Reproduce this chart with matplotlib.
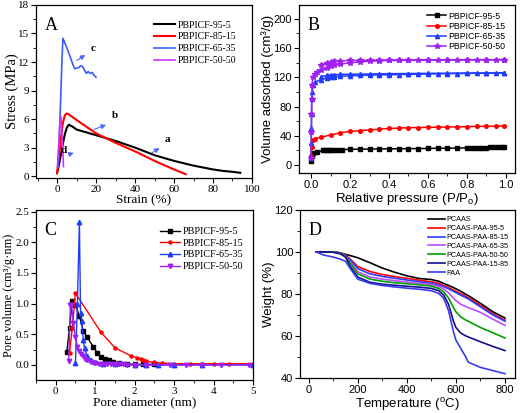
import matplotlib
matplotlib.use("Agg")
import matplotlib.pyplot as plt
from matplotlib.ticker import AutoMinorLocator

SERIF = "Liberation Serif"
SANS = "Liberation Sans"

# ---- panel A: stress-strain ----
a_x = [0, 1, 2, 3, 4, 5, 6, 8, 10, 15, 20, 25, 30, 35, 40, 45, 50, 55, 60, 65, 70, 75, 80, 85, 90, 94]
a_y = [0.3, 1.2, 2.3, 3.4, 4.4, 5.1, 5.4, 5.2, 4.9, 4.6, 4.3, 4.0, 3.7, 3.35, 3.0, 2.6, 2.2, 1.9, 1.6, 1.35, 1.1, 0.9, 0.7, 0.55, 0.45, 0.35]
b_x = [0, 1, 2, 3, 4, 5, 6, 8, 10, 15, 20, 25, 30, 35, 40, 45, 50, 55, 60, 63, 66]
b_y = [0.3, 2.0, 4.0, 5.6, 6.4, 6.6, 6.5, 6.2, 5.9, 5.2, 4.5, 4.0, 3.5, 3.05, 2.6, 2.1, 1.6, 1.15, 0.7, 0.45, 0.2]
c_x = [0.5, 1.5, 2.5, 3, 5, 7, 8, 9, 10, 11, 12, 13, 14, 15, 16, 17, 18, 19, 20]
c_y = [1.0, 6.0, 12.0, 14.5, 13.5, 12.4, 11.8, 11.3, 11.35, 11.4, 11.6, 11.55, 11.2, 10.8, 11.0, 10.8, 10.9, 10.6, 10.4]
d_x = [0.2, 0.8, 1.4, 1.8, 2.1, 2.5, 3.0, 3.3]
d_y = [1.0, 3.0, 5.2, 6.3, 5.8, 4.5, 2.5, 1.0]
a_labels = ["PBPICF-95-5", "PBPICF-85-15", "PBPICF-65-35", "PBPICF-50-50"]

# ---- panel B: N2 isotherms (adsorption + desorption) ----
b95_x = [0.001, 0.005, 0.01, 0.03, 0.06, 0.07, 0.08, 0.09, 0.1, 0.12, 0.14, 0.16, 0.2, 0.25, 0.3, 0.35, 0.4,
         0.45, 0.5, 0.55, 0.6, 0.65, 0.7, 0.75, 0.8, 0.82, 0.84, 0.86, 0.88, 0.9, 0.92, 0.94, 0.96, 0.98, 0.99]
b95_y = [5, 12, 16, 17.5, 20, 20.3, 20.5, 20.6, 20.8, 21, 21.1, 21.2, 21.4, 21.6, 21.8, 22, 22.1,
         22.2, 22.3, 22.5, 22.7, 22.9, 23, 23.2, 23.4, 23.5, 23.6, 23.7, 23.8, 23.9, 24, 24.1, 24.2, 24.3, 24.4]
b85_x = [0.001, 0.003, 0.01, 0.02, 0.05, 0.1, 0.15, 0.2, 0.25, 0.3, 0.35, 0.4, 0.45, 0.5, 0.55, 0.6, 0.65,
         0.7, 0.75, 0.8, 0.85, 0.9, 0.95, 0.99]
b85_y = [12, 25, 34, 36, 38, 41, 44, 46, 47, 48, 49, 50, 50.5, 51, 51.3, 51.5, 51.8,
         52, 52.2, 52.5, 52.8, 53, 53.2, 53.5]
b65_x = [0.0, 0.001, 0.002, 0.003, 0.004, 0.005, 0.01, 0.02, 0.05, 0.08, 0.1, 0.12, 0.15, 0.2, 0.25, 0.3,
         0.35, 0.4, 0.45, 0.5, 0.55, 0.6, 0.65, 0.7, 0.75, 0.8, 0.85, 0.9, 0.95, 0.99]
b65_y = [10, 30, 50, 70, 90, 100, 110, 113, 117, 119, 120, 121, 121.5, 122, 122.5, 123,
         123.2, 123.5, 123.7, 124, 124.2, 124.5, 124.7, 125, 125.1, 125.3, 125.5, 125.6, 125.8, 126]
b65d_x = [0.99, 0.9, 0.8, 0.7, 0.6, 0.5, 0.4, 0.35, 0.3, 0.25, 0.2, 0.15, 0.12, 0.1, 0.08, 0.05]
b65d_y = [126, 126, 125.8, 125.6, 125.4, 125.2, 125, 124.8, 124.6, 124.4, 124.2, 124, 123.6, 123.2, 122.5, 121]
b50_x = [0.0, 0.001, 0.002, 0.003, 0.005, 0.01, 0.02, 0.03, 0.05, 0.08, 0.1, 0.12, 0.15, 0.2, 0.25, 0.3,
         0.35, 0.4, 0.45, 0.5, 0.55, 0.6, 0.65, 0.7, 0.75, 0.8, 0.85, 0.9, 0.95, 0.99]
b50_y = [10, 45, 70, 90, 110, 120, 124, 127, 130, 133, 135, 136.5, 138, 140, 141, 142,
         142.5, 143, 143, 143.2, 143.3, 143.4, 143.5, 143.6, 143.7, 143.8, 143.9, 144, 144, 144.2]
b50d_x = [0.99, 0.9, 0.8, 0.7, 0.6, 0.5, 0.45, 0.4, 0.35, 0.3, 0.25, 0.2, 0.15, 0.12, 0.1, 0.08, 0.05]
b50d_y = [144.2, 144.2, 144.1, 144, 143.9, 143.8, 143.7, 143.6, 143.5, 143.4, 143.2, 143, 142.5, 142, 141, 140, 137]

# ---- panel C: pore size distribution ----
c95_x = [0.28, 0.35, 0.42, 0.5, 0.6, 0.7, 0.8, 0.95, 1.05, 1.15, 1.25, 1.35, 1.45, 1.6, 1.8, 2.0, 2.2, 2.5]
c95_y = [0.21, 0.6, 1.05, 0.98, 0.8, 0.55, 0.45, 0.3, 0.2, 0.13, 0.1, 0.08, 0.05, 0.03, 0.015, 0.01, 0.01, 0.01]
c85_x = [0.35, 0.42, 0.5, 1.15, 1.5, 1.9, 2.05, 2.15, 2.2, 2.3, 2.5, 2.7, 3.0, 3.4, 3.7, 4.0, 4.4, 5.0]
c85_y = [0.2, 0.6, 1.17, 0.53, 0.28, 0.15, 0.12, 0.1, 0.08, 0.06, 0.04, 0.03, 0.02, 0.02, 0.02, 0.02, 0.02, 0.02]
c65_x = [0.5, 0.55, 0.6, 0.63, 0.66, 0.7, 0.73, 0.8, 0.9, 1.0, 1.2, 1.5, 2.0, 2.3, 2.6, 3.0, 3.7, 5.0]
c65_y = [0.03, 1.0, 2.33, 0.85, 0.72, 0.4, 0.27, 0.15, 0.08, 0.05, 0.02, 0.01, 0.0, 0.0, 0.0, 0.0, 0.0, 0.0]
c50_x = [0.33, 0.37, 0.4, 0.45, 0.5, 0.55, 0.6, 0.65, 0.7, 0.75, 0.8, 0.9, 1.0, 1.1, 1.2, 1.3, 1.4, 1.5,
         1.6, 1.7, 1.8, 2.0, 2.3, 2.9, 3.3, 3.7, 4.2, 4.9]
c50_y = [0.07, 0.97, 0.98, 0.68, 0.45, 0.3, 0.22, 0.18, 0.15, 0.1, 0.08, 0.05, 0.03, 0.02, 0.02, 0.015, 0.01, 0.01,
         0.01, 0.01, 0.0, 0.0, 0.0, 0.0, 0.0, 0.0, 0.0, 0.0]

# ---- panel D: TGA ----
t = [30, 60, 100, 130, 150, 170, 200, 250, 300, 350, 400, 450, 500, 530, 550, 570, 590, 600, 620, 640, 650, 700, 750, 800]
w_pcaas = [100, 100, 100, 99.5, 98.8, 98.2, 97.2, 94.8, 92.3, 90.3, 88.6, 87.3, 86.8, 86, 85, 84, 83, 82.4, 81.2, 79.8, 79.2, 75.5, 71.5, 68.5]
w_95 = [100, 100, 100, 99.5, 98.5, 96.5, 93, 90.6, 89.2, 88.2, 87.4, 86.5, 85.7, 85, 84, 83, 81.8, 81.2, 80, 78.8, 78.2, 74.5, 70.5, 67.5]
w_85 = [100, 100, 100, 99.3, 98.2, 96, 92, 89.5, 88.3, 87.4, 86.6, 85.8, 85, 84.3, 83.4, 82.4, 81.2, 80.6, 79.4, 78.2, 77.6, 73.8, 70, 67]
w_65 = [100, 100, 100, 99.3, 98, 95, 90.5, 88, 87, 86.3, 85.6, 85, 84.4, 83.6, 82.3, 80.5, 78, 76.8, 75, 74, 73.5, 71.2, 68, 65]
w_50 = [100, 100, 100, 99.2, 97.8, 94.5, 89.5, 87, 86, 85.3, 84.8, 84.3, 83.7, 82.6, 81, 78, 73.5, 71.5, 69, 67.5, 67, 64, 61.5, 59]
w_15 = [100, 100, 99.8, 99, 97.5, 93, 88, 85.5, 84.6, 84.1, 83.6, 83.2, 82.6, 81.5, 79.5, 75, 67, 64, 61.3, 60, 59.5, 57.2, 55, 53]
w_paa = [100, 98.5, 97.5, 96.5, 95.5, 92, 87, 85, 84, 83.3, 82.7, 82.2, 81.5, 80.2, 78, 72, 62, 58, 54, 50, 47.5, 45, 43.5, 42]
d_labels = ["PCAAS", "PCAAS-PAA-95-5", "PCAAS-PAA-85-15", "PCAAS-PAA-65-35",
            "PCAAS-PAA-50-50", "PCAAS-PAA-15-85", "PAA"]

black, red, blue, violet = "#000000", "#ff0000", "#1f3cff", "#a020f0"

fig = plt.figure(figsize=(5.2, 4.13), dpi=100)
axA = fig.add_axes([0.0692, 0.569, 0.4154, 0.419])
axB = fig.add_axes([0.575, 0.581, 0.415, 0.407])
axC = fig.add_axes([0.0692, 0.080, 0.4173, 0.412])
axD = fig.add_axes([0.577, 0.085, 0.413, 0.407])


def style(ax, family, tick_fs=8):
    ax.xaxis.set_minor_locator(AutoMinorLocator(2))
    ax.yaxis.set_minor_locator(AutoMinorLocator(2))
    ax.tick_params(which="major", length=3.5, width=0.8, labelsize=tick_fs, pad=1.5)
    ax.tick_params(which="minor", length=2, width=0.6)
    for lab in ax.get_xticklabels() + ax.get_yticklabels():
        lab.set_fontfamily(family)
    for sp in ax.spines.values():
        sp.set_linewidth(0.9)


# A
axA.plot(a_x, a_y, color=black, lw=1.5, label=a_labels[0])
axA.plot(b_x, b_y, color=red, lw=1.5, label=a_labels[1])
axA.plot(c_x, c_y, color="#3a5cff", lw=1.2, label=a_labels[2])
axA.plot(d_x, d_y, color="#cc33ff", lw=1.2, label=a_labels[3])
axA.set_xlim(-10.8, 100)
axA.set_ylim(-0.2, 18)
axA.set_xticks([0, 20, 40, 60, 80, 100])
axA.set_yticks([0, 3, 6, 9, 12, 15, 18])
arr = dict(arrowstyle="-|>", color="#4a6cff", lw=0.8, mutation_scale=7)
axA.annotate("", xy=(53.8, 3.1), xytext=(47.5, 2.3), arrowprops=arr)
axA.text(55, 3.6, "a", family=SERIF, fontsize=8, fontweight="bold")
axA.annotate("", xy=(26.5, 5.5), xytext=(17.6, 4.8), arrowprops=arr)
axA.text(28.2, 6.1, "b", family=SERIF, fontsize=8, fontweight="bold")
axA.annotate("", xy=(15.7, 12.9), xytext=(8.9, 12.0), arrowprops=arr)
axA.text(17.3, 13.2, "c", family=SERIF, fontsize=8, fontweight="bold")
axA.annotate("", xy=(9.9, 2.55), xytext=(5.1, 2.2), arrowprops=arr)
axA.text(1.8, 2.4, "d", family=SERIF, fontsize=8, fontweight="bold")
axA.text(0.04, 0.93, "A", transform=axA.transAxes, family=SERIF, fontsize=13, va="top")
axA.set_xlabel("Strain (%)", family=SERIF, fontsize=9.5, labelpad=0.5)
axA.set_ylabel("Stress (MPa)", family=SERIF, fontsize=10.5)
axA.yaxis.set_label_coords(-0.08, 0.5)
axA.legend(loc="upper right", frameon=False, prop={"family": SERIF, "size": 7},
           handlelength=2.2, handletextpad=0.3, borderaxespad=1.2, labelspacing=0.3)
style(axA, SERIF)

# B
ms = 2.6
axB.plot(b95_x, b95_y, color=black, marker="s", ms=ms, lw=1.1, label=a_labels[0])
axB.plot(b85_x, b85_y, color=red, marker="o", ms=ms, lw=1.1, label=a_labels[1])
axB.plot(b65_x, b65_y, color=blue, marker="^", ms=ms + 0.4, lw=1.1, label=a_labels[2])
axB.plot(b65d_x, b65d_y, color=blue, marker="^", ms=ms + 0.4, lw=1.1)
axB.plot(b50_x, b50_y, color=violet, marker="*", ms=ms + 1.6, lw=1.1, label=a_labels[3])
axB.plot(b50d_x, b50d_y, color=violet, marker="*", ms=ms + 1.6, lw=1.1)
axB.set_xlim(-0.062, 1.046)
axB.set_ylim(-11, 219)
axB.set_xticks([0.0, 0.2, 0.4, 0.6, 0.8, 1.0])
axB.set_yticks([0, 40, 80, 120, 160, 200])
axB.text(0.04, 0.93, "B", transform=axB.transAxes, family=SERIF, fontsize=13, va="top")
axB.set_xlabel("Relative pressure (P/P$_\\mathregular{o}$)", family=SANS, fontsize=9.5, labelpad=1)
axB.set_ylabel("Volume adsorbed (cm³/g)", family=SANS, fontsize=9.5)
axB.yaxis.set_label_coords(-0.115, 0.5)
axB.legend(loc="upper right", frameon=False, prop={"family": SANS, "size": 6.3},
           bbox_to_anchor=(1.0, 1.018),
           handlelength=2.2, handletextpad=0.2, borderaxespad=0.7, labelspacing=0.15)
style(axB, SANS)

# C
axC.plot(c95_x, c95_y, color=black, marker="s", ms=ms, lw=1.0, label=a_labels[0])
axC.plot(c85_x, c85_y, color=red, marker="o", ms=ms - 0.4, lw=1.0, label=a_labels[1])
axC.plot(c65_x, c65_y, color=blue, marker="^", ms=ms + 0.6, lw=1.0, label=a_labels[2])
axC.plot(c50_x, c50_y, color=violet, marker="v", ms=ms + 0.6, lw=1.0, label=a_labels[3])
axC.set_xlim(-0.5, 5)
axC.set_ylim(-0.245, 2.53)
axC.set_xticks([0, 1, 2, 3, 4, 5])
axC.set_yticks([0.0, 0.5, 1.0, 1.5, 2.0, 2.5])
axC.text(0.04, 0.93, "C", transform=axC.transAxes, family=SERIF, fontsize=13, va="top")
axC.set_xlabel("Pore diameter (nm)", family=SERIF, fontsize=9.5, labelpad=0.5)
axC.set_ylabel("Pore volume (cm³/g·nm)", family=SERIF, fontsize=9)
axC.yaxis.set_label_coords(-0.095, 0.5)
axC.legend(loc="upper right", frameon=False, prop={"family": SERIF, "size": 7.3},
           bbox_to_anchor=(1.01, 0.97),
           handlelength=2.0, handletextpad=0.2, borderaxespad=0.8, labelspacing=0.25)
style(axC, SERIF)
axC.tick_params(axis="y", which="major", pad=1)

# D
d_series = [w_pcaas, w_95, w_85, w_65, w_50, w_15, w_paa]
d_colors = [black, red, "#2b3cff", "#c04cff", "#00a000", "#101090", "#3a3aee"]
for w, col, lab in zip(d_series, d_colors, d_labels):
    axD.plot(t, w, color=col, lw=1.2, label=lab)
axD.set_xlim(-35, 840)
axD.set_ylim(40, 120)
axD.set_xticks([0, 200, 400, 600, 800])
axD.set_yticks([40, 60, 80, 100, 120])
axD.text(0.04, 0.93, "D", transform=axD.transAxes, family=SERIF, fontsize=13, va="top")
axD.set_xlabel("Temperature ($^\\mathregular{o}$C)", family=SANS, fontsize=9.5, labelpad=1)
axD.set_ylabel("Weight (%)", family=SANS, fontsize=9.5)
axD.yaxis.set_label_coords(-0.115, 0.5)
axD.legend(loc="upper right", frameon=False, prop={"family": SANS, "size": 5.2},
           handlelength=2.4, handletextpad=0.1, borderaxespad=0.5, labelspacing=0.25)
style(axD, SANS)

fig.savefig("out.png", dpi=100)
